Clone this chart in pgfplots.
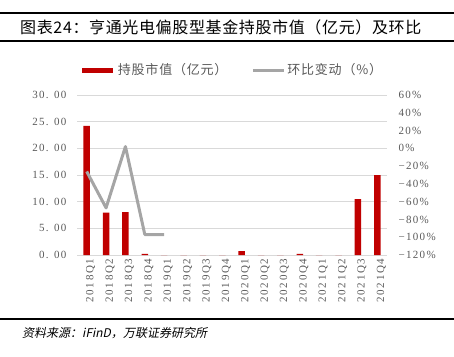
\documentclass[border=0pt]{standalone}
\usepackage{pgfplots}
\pgfplotsset{compat=1.18}
\usepackage{fontspec}
\setmainfont{Noto Sans CJK SC}
\newfontfamily\numfont[LetterSpace=12]{Liberation Serif}
\newfontfamily\xnumfont[LetterSpace=16]{Liberation Serif}
\newfontfamily\cjkit[FakeSlant=0.2]{Noto Sans CJK SC}
\definecolor{barred}{HTML}{C00000}
\definecolor{linegray}{HTML}{A5A5A5}
\definecolor{txtgray}{HTML}{595959}
\definecolor{gridgray}{HTML}{D9D9D9}
\begin{document}
\begin{tikzpicture}[x=1pt,y=1pt]
\useasboundingbox (0,0) rectangle (454,356);
\draw[line width=2pt] (0,342.5) -- (454,342.5);
\draw[line width=2pt] (0,315) -- (454,315);
\node[anchor=west, inner sep=0pt, font=\addfontfeatures{LetterSpace=4}\fontsize{16}{18}\selectfont] at (20,328.5) {图表24：亨通光电偏股型基金持股市值（亿元）及环比};
\draw[line width=2pt] (0,37) -- (454,37);
\node[anchor=west, inner sep=0pt, font=\cjkit\fontsize{12}{14}\selectfont] at (22,23) {资料来源：iFinD，万联证券研究所};

\begin{axis}[
  at={(77pt,101pt)}, anchor=south west, scale only axis,
  width=310pt, height=160pt,
  xmin=-0.5, xmax=15.5, ymin=0, ymax=30,
  axis x line*=bottom, axis y line*=left,
  y axis line style={draw=none},
  x axis line style={draw=gridgray, line width=0.8pt},
  major tick length=0pt,
  ymajorgrids, grid style={gridgray, line width=0.8pt},
  ytick={0,5,10,15,20,25,30},
  yticklabels={0. 00,5. 00,10. 00,15. 00,20. 00,25. 00,30. 00},
  yticklabel style={font=\numfont\fontsize{11}{12}\selectfont, text=txtgray, xshift=-7pt},
  xtick={0,...,15},
  xticklabels={2018Q1,2018Q2,2018Q3,2018Q4,2019Q1,2019Q2,2019Q3,2019Q4,2020Q1,2020Q2,2020Q3,2020Q4,2021Q1,2021Q2,2021Q3,2021Q4},
  xticklabel style={rotate=90, anchor=east, font=\xnumfont\fontsize{11}{12}\selectfont, text=txtgray, xshift=0pt, yshift=-4pt},
]
\addplot[ybar, bar width=6.5pt, fill=barred, draw=none] coordinates {
 (0,24.2) (1,7.95) (2,8.05) (3,0.2) (4,0) (5,0) (6,0) (7,0)
 (8,0.75) (9,0) (10,0) (11,0.2) (12,0) (13,0) (14,10.5) (15,15.0)
};
\end{axis}

\begin{axis}[
  at={(77pt,101pt)}, anchor=south west, scale only axis,
  width=310pt, height=160pt,
  xmin=-0.5, xmax=15.5, ymin=-120, ymax=60,
  axis y line*=right, axis x line=none,
  y axis line style={draw=none},
  major tick length=0pt,
  ytick={-120,-100,-80,-60,-40,-20,0,20,40,60},
  yticklabels={−120\%,−100\%,−80\%,−60\%,−40\%,−20\%,0\%,20\%,40\%,60\%},
  yticklabel style={font=\numfont\fontsize{11}{12}\selectfont, text=txtgray, xshift=8pt},
  legend image code/.code={\draw[#1] (0pt,0pt) -- (31pt,0pt);},
  legend style={draw=none, fill=none, legend columns=2, at={(0.5,1.156)}, anchor=center,
    font=\addfontfeatures{LetterSpace=6}\fontsize{13}{15}\selectfont, text=txtgray,
    /tikz/every even column/.append style={column sep=22pt}},
]
\addlegendimage{barred, line width=5pt}
\addlegendentry{持股市值（亿元）}
\addplot[linegray, line width=3pt, line join=round] coordinates {
 (0,-26) (1,-67) (2,2) (3,-97) (4,-97)
};
\addlegendentry{环比变动（\%）}
\end{axis}
\end{tikzpicture}
\end{document}
